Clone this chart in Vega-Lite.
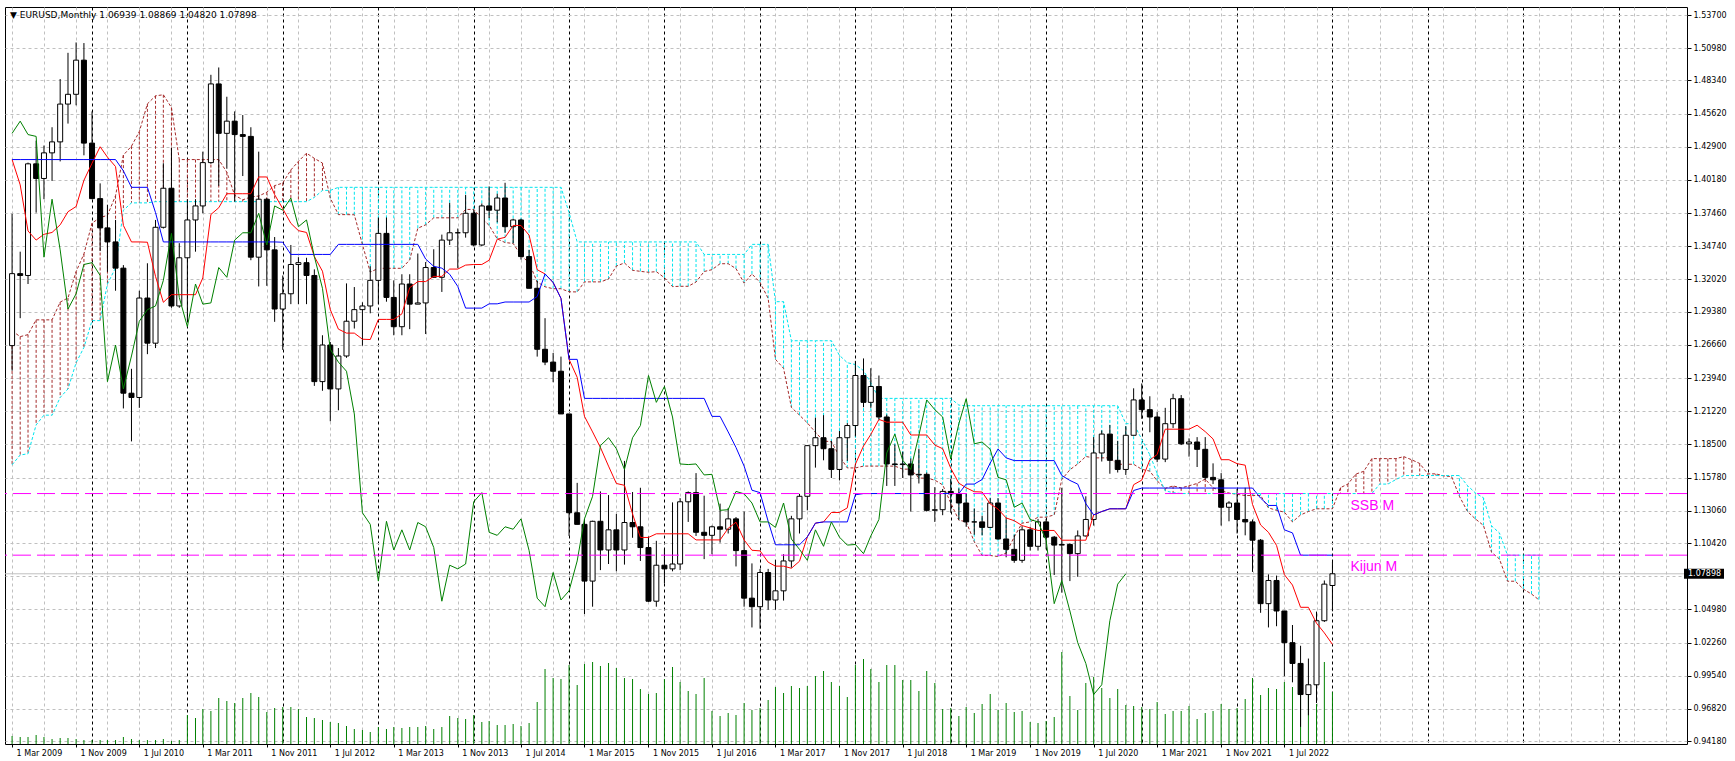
{
  "$schema": "https://vega.github.io/schema/vega-lite/v6.json",
  "width": 1682,
  "height": 737,
  "padding": {"left": 5, "top": 7, "right": 48, "bottom": 17},
  "autosize": {"type": "none"},
  "background": "white",
  "title": {
    "text": "▼ EURUSD,Monthly  1.06939 1.08869 1.04820 1.07898",
    "anchor": "start",
    "frame": "group",
    "offset": -13,
    "dx": 5,
    "font": "DejaVu Sans",
    "fontSize": 9,
    "fontWeight": "normal",
    "color": "#000000"
  },
  "config": {
    "view": {"stroke": "#000000", "strokeWidth": 1},
    "axis": {"labelColor": "#000000", "tickColor": "#000000", "labelOverlap": false, "labelFlush": false, "labelBound": false, "labelFont": "DejaVu Sans", "labelFontSize": 8},
    "axisY": {"labelOverlap": false},
    "axisRight": {"labelPadding": 2, "tickSize": 4, "labelOverlap": false},
    "axisBottom": {"labelAlign": "left", "labelOffset": 4, "labelPadding": 2, "tickSize": 3}
  },
  "datasets": {
    "bars": [
      {"d":"2009-03-01","o":1.266,"h":1.374,"l":1.2455,"c":1.325,"v":8,"t":1.4185,"k":1.4185,"ch":1.44},
      {"d":"2009-04-01","o":1.325,"h":1.343,"l":1.2885,"c":1.3235,"v":7,"t":1.39775,"k":1.4185,"ch":1.45},
      {"d":"2009-05-01","o":1.3235,"h":1.416,"l":1.3165,"c":1.415,"v":7,"t":1.36,"k":1.4185,"ch":1.439},
      {"d":"2009-06-01","o":1.415,"h":1.434,"l":1.375,"c":1.403,"v":9,"t":1.3525,"k":1.4185,"ch":1.4375},
      {"d":"2009-07-01","o":1.403,"h":1.43,"l":1.386,"c":1.424,"v":7,"t":1.35725,"k":1.4185,"ch":1.3385},
      {"d":"2009-08-01","o":1.424,"h":1.445,"l":1.401,"c":1.433,"v":5,"t":1.35875,"k":1.4185,"ch":1.386},
      {"d":"2009-09-01","o":1.433,"h":1.4845,"l":1.417,"c":1.464,"v":6,"t":1.365,"k":1.4185,"ch":1.3445},
      {"d":"2009-10-01","o":1.464,"h":1.506,"l":1.448,"c":1.472,"v":6,"t":1.37575,"k":1.4185,"ch":1.296},
      {"d":"2009-11-01","o":1.472,"h":1.5145,"l":1.463,"c":1.5,"v":5,"t":1.38,"k":1.4185,"ch":1.3085},
      {"d":"2009-12-01","o":1.5,"h":1.514,"l":1.422,"c":1.432,"v":4,"t":1.4015,"k":1.4185,"ch":1.3325},
      {"d":"2010-01-01","o":1.432,"h":1.458,"l":1.386,"c":1.3865,"v":4,"t":1.4155,"k":1.4185,"ch":1.334},
      {"d":"2010-02-01","o":1.3865,"h":1.399,"l":1.3435,"c":1.3625,"v":4,"t":1.429,"k":1.4185,"ch":1.3235},
      {"d":"2010-03-01","o":1.3625,"h":1.3815,"l":1.3265,"c":1.351,"v":4,"t":1.4205,"k":1.4185,"ch":1.2365},
      {"d":"2010-04-01","o":1.351,"h":1.369,"l":1.311,"c":1.3295,"v":4,"t":1.41275,"k":1.4185,"ch":1.2665},
      {"d":"2010-05-01","o":1.3295,"h":1.332,"l":1.2145,"c":1.227,"v":7,"t":1.3645,"k":1.40925,"ch":1.2305},
      {"d":"2010-06-01","o":1.227,"h":1.247,"l":1.1875,"c":1.2235,"v":5,"t":1.351,"k":1.39575,"ch":1.2575},
      {"d":"2010-07-01","o":1.2235,"h":1.311,"l":1.215,"c":1.305,"v":4,"t":1.351,"k":1.39575,"ch":1.286},
      {"d":"2010-08-01","o":1.305,"h":1.3335,"l":1.259,"c":1.268,"v":4,"t":1.35075,"k":1.39575,"ch":1.2955},
      {"d":"2010-09-01","o":1.268,"h":1.369,"l":1.264,"c":1.363,"v":4,"t":1.32275,"k":1.375,"ch":1.2985},
      {"d":"2010-10-01","o":1.363,"h":1.4155,"l":1.362,"c":1.395,"v":5,"t":1.3015,"k":1.351,"ch":1.3195},
      {"d":"2010-11-01","o":1.395,"h":1.428,"l":1.297,"c":1.2985,"v":3,"t":1.30775,"k":1.351,"ch":1.358},
      {"d":"2010-12-01","o":1.2985,"h":1.35,"l":1.297,"c":1.338,"v":4,"t":1.30775,"k":1.351,"ch":1.3055},
      {"d":"2011-01-01","o":1.338,"h":1.386,"l":1.287,"c":1.369,"v":29,"t":1.30775,"k":1.351,"ch":1.2815},
      {"d":"2011-02-01","o":1.369,"h":1.386,"l":1.343,"c":1.3805,"v":26,"t":1.30775,"k":1.351,"ch":1.3165},
      {"d":"2011-03-01","o":1.3805,"h":1.425,"l":1.3745,"c":1.416,"v":35,"t":1.3215,"k":1.351,"ch":1.3},
      {"d":"2011-04-01","o":1.416,"h":1.488,"l":1.415,"c":1.4805,"v":33,"t":1.3735,"k":1.351,"ch":1.301},
      {"d":"2011-05-01","o":1.4805,"h":1.494,"l":1.397,"c":1.44,"v":46,"t":1.379,"k":1.351,"ch":1.33},
      {"d":"2011-06-01","o":1.44,"h":1.47,"l":1.411,"c":1.45,"v":43,"t":1.3905,"k":1.351,"ch":1.322},
      {"d":"2011-07-01","o":1.45,"h":1.458,"l":1.384,"c":1.439,"v":41,"t":1.3905,"k":1.351,"ch":1.3525},
      {"d":"2011-08-01","o":1.439,"h":1.455,"l":1.405,"c":1.4375,"v":46,"t":1.3905,"k":1.351,"ch":1.3585},
      {"d":"2011-09-01","o":1.4375,"h":1.445,"l":1.336,"c":1.3385,"v":51,"t":1.3905,"k":1.351,"ch":1.3585},
      {"d":"2011-10-01","o":1.3385,"h":1.425,"l":1.3145,"c":1.386,"v":47,"t":1.40425,"k":1.351,"ch":1.3745},
      {"d":"2011-11-01","o":1.386,"h":1.387,"l":1.315,"c":1.3445,"v":32,"t":1.40425,"k":1.351,"ch":1.3485},
      {"d":"2011-12-01","o":1.3445,"h":1.355,"l":1.2855,"c":1.296,"v":36,"t":1.38975,"k":1.351,"ch":1.3805},
      {"d":"2012-01-01","o":1.296,"h":1.3235,"l":1.2625,"c":1.3085,"v":37,"t":1.37825,"k":1.35075,"ch":1.377},
      {"d":"2012-02-01","o":1.3085,"h":1.3485,"l":1.3,"c":1.3325,"v":37,"t":1.36625,"k":1.34075,"ch":1.387},
      {"d":"2012-03-01","o":1.3325,"h":1.3385,"l":1.3,"c":1.334,"v":35,"t":1.36025,"k":1.34075,"ch":1.3635},
      {"d":"2012-04-01","o":1.334,"h":1.338,"l":1.3,"c":1.3235,"v":27,"t":1.35875,"k":1.34075,"ch":1.369},
      {"d":"2012-05-01","o":1.3235,"h":1.3285,"l":1.233,"c":1.2365,"v":26,"t":1.339,"k":1.34075,"ch":1.339},
      {"d":"2012-06-01","o":1.2365,"h":1.2745,"l":1.229,"c":1.2665,"v":24,"t":1.327,"k":1.34075,"ch":1.313},
      {"d":"2012-07-01","o":1.2665,"h":1.269,"l":1.204,"c":1.2305,"v":22,"t":1.2955,"k":1.34075,"ch":1.263},
      {"d":"2012-08-01","o":1.2305,"h":1.264,"l":1.213,"c":1.2575,"v":21,"t":1.2795,"k":1.349,"ch":1.2525},
      {"d":"2012-09-01","o":1.2575,"h":1.317,"l":1.256,"c":1.286,"v":18,"t":1.27625,"k":1.349,"ch":1.245},
      {"d":"2012-10-01","o":1.286,"h":1.314,"l":1.28,"c":1.2955,"v":15,"t":1.27625,"k":1.349,"ch":1.21},
      {"d":"2012-11-01","o":1.2955,"h":1.3015,"l":1.266,"c":1.2985,"v":14,"t":1.27125,"k":1.349,"ch":1.129},
      {"d":"2012-12-01","o":1.2985,"h":1.331,"l":1.2925,"c":1.3195,"v":12,"t":1.271,"k":1.349,"ch":1.1195},
      {"d":"2013-01-01","o":1.3195,"h":1.371,"l":1.3,"c":1.358,"v":17,"t":1.2875,"k":1.349,"ch":1.073},
      {"d":"2013-02-01","o":1.358,"h":1.371,"l":1.302,"c":1.3055,"v":15,"t":1.2875,"k":1.349,"ch":1.122},
      {"d":"2013-03-01","o":1.3055,"h":1.3195,"l":1.2745,"c":1.2815,"v":17,"t":1.2875,"k":1.349,"ch":1.0985},
      {"d":"2013-04-01","o":1.2815,"h":1.3245,"l":1.2745,"c":1.3165,"v":16,"t":1.292,"k":1.349,"ch":1.115},
      {"d":"2013-05-01","o":1.3165,"h":1.3245,"l":1.2795,"c":1.3,"v":17,"t":1.3135,"k":1.349,"ch":1.0985},
      {"d":"2013-06-01","o":1.3,"h":1.3415,"l":1.3,"c":1.301,"v":17,"t":1.3185,"k":1.349,"ch":1.121},
      {"d":"2013-07-01","o":1.301,"h":1.3345,"l":1.2755,"c":1.33,"v":18,"t":1.3185,"k":1.337,"ch":1.1175},
      {"d":"2013-08-01","o":1.33,"h":1.345,"l":1.322,"c":1.322,"v":15,"t":1.32275,"k":1.331,"ch":1.1005},
      {"d":"2013-09-01","o":1.322,"h":1.357,"l":1.31,"c":1.3525,"v":17,"t":1.32275,"k":1.3295,"ch":1.0565},
      {"d":"2013-10-01","o":1.3525,"h":1.383,"l":1.3485,"c":1.3585,"v":28,"t":1.32875,"k":1.3245,"ch":1.086},
      {"d":"2013-11-01","o":1.3585,"h":1.362,"l":1.3295,"c":1.3585,"v":26,"t":1.32875,"k":1.3145,"ch":1.083},
      {"d":"2013-12-01","o":1.3585,"h":1.3895,"l":1.3545,"c":1.3745,"v":25,"t":1.332,"k":1.29675,"ch":1.087},
      {"d":"2014-01-01","o":1.3745,"h":1.3775,"l":1.3475,"c":1.3485,"v":29,"t":1.3325,"k":1.29675,"ch":1.138},
      {"d":"2014-02-01","o":1.3485,"h":1.3825,"l":1.3475,"c":1.3805,"v":22,"t":1.3325,"k":1.29675,"ch":1.1455},
      {"d":"2014-03-01","o":1.3805,"h":1.3965,"l":1.3705,"c":1.377,"v":23,"t":1.336,"k":1.30025,"ch":1.113},
      {"d":"2014-04-01","o":1.377,"h":1.3905,"l":1.367,"c":1.387,"v":19,"t":1.35325,"k":1.30025,"ch":1.1105},
      {"d":"2014-05-01","o":1.387,"h":1.3995,"l":1.3585,"c":1.3635,"v":19,"t":1.35475,"k":1.30175,"ch":1.1175},
      {"d":"2014-06-01","o":1.3635,"h":1.37,"l":1.35,"c":1.369,"v":20,"t":1.3645,"k":1.30175,"ch":1.1155},
      {"d":"2014-07-01","o":1.369,"h":1.37,"l":1.3365,"c":1.339,"v":18,"t":1.3645,"k":1.30175,"ch":1.124},
      {"d":"2014-08-01","o":1.339,"h":1.3445,"l":1.313,"c":1.313,"v":21,"t":1.3565,"k":1.30175,"ch":1.098},
      {"d":"2014-09-01","o":1.313,"h":1.319,"l":1.257,"c":1.263,"v":42,"t":1.32825,"k":1.30625,"ch":1.059},
      {"d":"2014-10-01","o":1.263,"h":1.2885,"l":1.25,"c":1.2525,"v":75,"t":1.32475,"k":1.32475,"ch":1.052},
      {"d":"2014-11-01","o":1.2525,"h":1.26,"l":1.236,"c":1.245,"v":66,"t":1.31775,"k":1.31775,"ch":1.08},
      {"d":"2014-12-01","o":1.245,"h":1.257,"l":1.21,"c":1.21,"v":65,"t":1.30475,"k":1.30475,"ch":1.0575},
      {"d":"2015-01-01","o":1.21,"h":1.21,"l":1.11,"c":1.129,"v":79,"t":1.25475,"k":1.25475,"ch":1.065},
      {"d":"2015-02-01","o":1.129,"h":1.1535,"l":1.1195,"c":1.1195,"v":59,"t":1.24,"k":1.25475,"ch":1.0895},
      {"d":"2015-03-01","o":1.1195,"h":1.124,"l":1.046,"c":1.073,"v":80,"t":1.208,"k":1.22275,"ch":1.124},
      {"d":"2015-04-01","o":1.073,"h":1.1225,"l":1.052,"c":1.122,"v":82,"t":1.19525,"k":1.22275,"ch":1.1425},
      {"d":"2015-05-01","o":1.122,"h":1.1465,"l":1.082,"c":1.0985,"v":78,"t":1.1825,"k":1.22275,"ch":1.184},
      {"d":"2015-06-01","o":1.0985,"h":1.1435,"l":1.087,"c":1.115,"v":81,"t":1.16725,"k":1.22275,"ch":1.1905},
      {"d":"2015-07-01","o":1.115,"h":1.128,"l":1.081,"c":1.0985,"v":76,"t":1.153,"k":1.22275,"ch":1.1815},
      {"d":"2015-08-01","o":1.0985,"h":1.1715,"l":1.0865,"c":1.121,"v":66,"t":1.1515,"k":1.22275,"ch":1.1645},
      {"d":"2015-09-01","o":1.121,"h":1.146,"l":1.1085,"c":1.1175,"v":65,"t":1.128,"k":1.22275,"ch":1.1905},
      {"d":"2015-10-01","o":1.1175,"h":1.1495,"l":1.0895,"c":1.1005,"v":55,"t":1.10875,"k":1.22275,"ch":1.2005},
      {"d":"2015-11-01","o":1.1005,"h":1.1095,"l":1.056,"c":1.0565,"v":50,"t":1.10875,"k":1.22275,"ch":1.2415},
      {"d":"2015-12-01","o":1.0565,"h":1.106,"l":1.052,"c":1.086,"v":51,"t":1.11175,"k":1.22275,"ch":1.2195},
      {"d":"2016-01-01","o":1.086,"h":1.099,"l":1.071,"c":1.083,"v":65,"t":1.11175,"k":1.22275,"ch":1.2325},
      {"d":"2016-02-01","o":1.083,"h":1.1375,"l":1.081,"c":1.087,"v":77,"t":1.11175,"k":1.22275,"ch":1.2075},
      {"d":"2016-03-01","o":1.087,"h":1.141,"l":1.082,"c":1.138,"v":62,"t":1.11175,"k":1.22275,"ch":1.169},
      {"d":"2016-04-01","o":1.138,"h":1.1465,"l":1.1215,"c":1.1455,"v":53,"t":1.11175,"k":1.22275,"ch":1.1685},
      {"d":"2016-05-01","o":1.1455,"h":1.1615,"l":1.11,"c":1.113,"v":50,"t":1.10675,"k":1.22275,"ch":1.169},
      {"d":"2016-06-01","o":1.113,"h":1.143,"l":1.091,"c":1.1105,"v":66,"t":1.10675,"k":1.22275,"ch":1.16},
      {"d":"2016-07-01","o":1.1105,"h":1.1185,"l":1.095,"c":1.1175,"v":33,"t":1.10675,"k":1.208,"ch":1.1605},
      {"d":"2016-08-01","o":1.1175,"h":1.1365,"l":1.1045,"c":1.1155,"v":28,"t":1.10675,"k":1.208,"ch":1.131},
      {"d":"2016-09-01","o":1.1155,"h":1.133,"l":1.112,"c":1.124,"v":31,"t":1.11625,"k":1.19525,"ch":1.1315},
      {"d":"2016-10-01","o":1.124,"h":1.1255,"l":1.085,"c":1.098,"v":29,"t":1.12125,"k":1.1825,"ch":1.1465},
      {"d":"2016-11-01","o":1.098,"h":1.13,"l":1.052,"c":1.059,"v":41,"t":1.10675,"k":1.16725,"ch":1.1445},
      {"d":"2016-12-01","o":1.059,"h":1.0875,"l":1.035,"c":1.052,"v":34,"t":1.09825,"k":1.1475,"ch":1.137},
      {"d":"2017-01-01","o":1.052,"h":1.083,"l":1.034,"c":1.08,"v":36,"t":1.09775,"k":1.1455,"ch":1.1215},
      {"d":"2017-02-01","o":1.08,"h":1.083,"l":1.0495,"c":1.0575,"v":44,"t":1.0885,"k":1.122,"ch":1.1215},
      {"d":"2017-03-01","o":1.0575,"h":1.0905,"l":1.0495,"c":1.065,"v":57,"t":1.08525,"k":1.10275,"ch":1.117},
      {"d":"2017-04-01","o":1.065,"h":1.095,"l":1.057,"c":1.0895,"v":51,"t":1.08525,"k":1.10275,"ch":1.137},
      {"d":"2017-05-01","o":1.0895,"h":1.1265,"l":1.084,"c":1.124,"v":58,"t":1.0835,"k":1.10275,"ch":1.1075},
      {"d":"2017-06-01","o":1.124,"h":1.1445,"l":1.112,"c":1.1425,"v":56,"t":1.08925,"k":1.10275,"ch":1.099},
      {"d":"2017-07-01","o":1.1425,"h":1.1845,"l":1.131,"c":1.184,"v":58,"t":1.10925,"k":1.10925,"ch":1.09},
      {"d":"2017-08-01","o":1.184,"h":1.207,"l":1.166,"c":1.1905,"v":68,"t":1.1205,"k":1.1205,"ch":1.115},
      {"d":"2017-09-01","o":1.1905,"h":1.209,"l":1.172,"c":1.1815,"v":73,"t":1.1215,"k":1.1215,"ch":1.1015},
      {"d":"2017-10-01","o":1.1815,"h":1.188,"l":1.1575,"c":1.1645,"v":62,"t":1.12925,"k":1.1215,"ch":1.1215},
      {"d":"2017-11-01","o":1.1645,"h":1.196,"l":1.1555,"c":1.1905,"v":58,"t":1.12925,"k":1.1215,"ch":1.109},
      {"d":"2017-12-01","o":1.1905,"h":1.2025,"l":1.1715,"c":1.2005,"v":47,"t":1.133,"k":1.1215,"ch":1.1025},
      {"d":"2018-01-01","o":1.2005,"h":1.2535,"l":1.1915,"c":1.2415,"v":79,"t":1.16875,"k":1.14375,"ch":1.103},
      {"d":"2018-02-01","o":1.2415,"h":1.2555,"l":1.2155,"c":1.2195,"v":85,"t":1.18375,"k":1.14475,"ch":1.0955},
      {"d":"2018-03-01","o":1.2195,"h":1.2475,"l":1.215,"c":1.2325,"v":75,"t":1.19325,"k":1.14475,"ch":1.11},
      {"d":"2018-04-01","o":1.2325,"h":1.2415,"l":1.2055,"c":1.2075,"v":62,"t":1.2055,"k":1.14475,"ch":1.1235},
      {"d":"2018-05-01","o":1.2075,"h":1.2095,"l":1.151,"c":1.169,"v":79,"t":1.20325,"k":1.14475,"ch":1.178},
      {"d":"2018-06-01","o":1.169,"h":1.185,"l":1.151,"c":1.1685,"v":79,"t":1.20325,"k":1.14475,"ch":1.1935},
      {"d":"2018-07-01","o":1.1685,"h":1.179,"l":1.1575,"c":1.169,"v":64,"t":1.20325,"k":1.14475,"ch":1.172},
      {"d":"2018-08-01","o":1.169,"h":1.1735,"l":1.13,"c":1.16,"v":64,"t":1.19275,"k":1.14475,"ch":1.1645},
      {"d":"2018-09-01","o":1.16,"h":1.1815,"l":1.153,"c":1.1605,"v":53,"t":1.19275,"k":1.14475,"ch":1.1925},
      {"d":"2018-10-01","o":1.1605,"h":1.162,"l":1.13,"c":1.131,"v":73,"t":1.19275,"k":1.14475,"ch":1.2215},
      {"d":"2018-11-01","o":1.131,"h":1.15,"l":1.1215,"c":1.1315,"v":61,"t":1.1845,"k":1.14475,"ch":1.2135},
      {"d":"2018-12-01","o":1.1315,"h":1.1485,"l":1.127,"c":1.1465,"v":35,"t":1.1815,"k":1.14475,"ch":1.2075},
      {"d":"2019-01-01","o":1.1465,"h":1.157,"l":1.129,"c":1.1445,"v":36,"t":1.1655,"k":1.14475,"ch":1.173},
      {"d":"2019-02-01","o":1.1445,"h":1.149,"l":1.1235,"c":1.137,"v":28,"t":1.15325,"k":1.14475,"ch":1.202},
      {"d":"2019-03-01","o":1.137,"h":1.145,"l":1.1175,"c":1.1215,"v":37,"t":1.1495,"k":1.1525,"ch":1.2225},
      {"d":"2019-04-01","o":1.1215,"h":1.1325,"l":1.111,"c":1.1215,"v":31,"t":1.14625,"k":1.1525,"ch":1.1855},
      {"d":"2019-05-01","o":1.1215,"h":1.1265,"l":1.1105,"c":1.117,"v":40,"t":1.146,"k":1.15625,"ch":1.187},
      {"d":"2019-06-01","o":1.117,"h":1.141,"l":1.1165,"c":1.137,"v":50,"t":1.13625,"k":1.16975,"ch":1.181},
      {"d":"2019-07-01","o":1.137,"h":1.141,"l":1.107,"c":1.1075,"v":34,"t":1.132,"k":1.18125,"ch":1.158},
      {"d":"2019-08-01","o":1.1075,"h":1.125,"l":1.0925,"c":1.099,"v":41,"t":1.12475,"k":1.174,"ch":1.156},
      {"d":"2019-09-01","o":1.099,"h":1.111,"l":1.088,"c":1.09,"v":32,"t":1.1225,"k":1.17175,"ch":1.1335},
      {"d":"2019-10-01","o":1.09,"h":1.118,"l":1.088,"c":1.115,"v":33,"t":1.1185,"k":1.17175,"ch":1.137},
      {"d":"2019-11-01","o":1.115,"h":1.1175,"l":1.098,"c":1.1015,"v":22,"t":1.1165,"k":1.17175,"ch":1.1235},
      {"d":"2019-12-01","o":1.1015,"h":1.124,"l":1.098,"c":1.1215,"v":21,"t":1.1145,"k":1.17175,"ch":1.1215},
      {"d":"2020-01-01","o":1.1215,"h":1.124,"l":1.099,"c":1.109,"v":23,"t":1.1145,"k":1.17175,"ch":1.1065},
      {"d":"2020-02-01","o":1.109,"h":1.11,"l":1.078,"c":1.1025,"v":27,"t":1.1145,"k":1.17175,"ch":1.0545},
      {"d":"2020-03-01","o":1.1025,"h":1.1495,"l":1.0635,"c":1.103,"v":92,"t":1.1065,"k":1.1595,"ch":1.0735},
      {"d":"2020-04-01","o":1.103,"h":1.104,"l":1.073,"c":1.0955,"v":48,"t":1.1065,"k":1.1555,"ch":1.0485},
      {"d":"2020-05-01","o":1.0955,"h":1.1145,"l":1.0765,"c":1.11,"v":34,"t":1.1065,"k":1.1525,"ch":1.0225},
      {"d":"2020-06-01","o":1.11,"h":1.1425,"l":1.1095,"c":1.1235,"v":61,"t":1.1065,"k":1.1365,"ch":1.0055},
      {"d":"2020-07-01","o":1.1235,"h":1.191,"l":1.1185,"c":1.178,"v":67,"t":1.12725,"k":1.12725,"ch":0.98},
      {"d":"2020-08-01","o":1.178,"h":1.1965,"l":1.171,"c":1.1935,"v":56,"t":1.13,"k":1.13,"ch":0.988},
      {"d":"2020-09-01","o":1.1935,"h":1.201,"l":1.161,"c":1.172,"v":46,"t":1.13225,"k":1.13225,"ch":1.0405},
      {"d":"2020-10-01","o":1.172,"h":1.188,"l":1.162,"c":1.1645,"v":55,"t":1.13225,"k":1.13225,"ch":1.0705},
      {"d":"2020-11-01","o":1.1645,"h":1.2,"l":1.16,"c":1.1925,"v":39,"t":1.13225,"k":1.13225,"ch":1.07898},
      {"d":"2020-12-01","o":1.1925,"h":1.231,"l":1.1925,"c":1.2215,"v":38,"t":1.152,"k":1.14725},
      {"d":"2021-01-01","o":1.2215,"h":1.235,"l":1.206,"c":1.2135,"v":37,"t":1.15575,"k":1.14925},
      {"d":"2021-02-01","o":1.2135,"h":1.2245,"l":1.195,"c":1.2075,"v":35,"t":1.17225,"k":1.14925},
      {"d":"2021-03-01","o":1.2075,"h":1.2115,"l":1.1705,"c":1.173,"v":42,"t":1.17675,"k":1.14925},
      {"d":"2021-04-01","o":1.173,"h":1.215,"l":1.1705,"c":1.202,"v":30,"t":1.1975,"k":1.14925},
      {"d":"2021-05-01","o":1.202,"h":1.2265,"l":1.1985,"c":1.2225,"v":33,"t":1.1975,"k":1.14925},
      {"d":"2021-06-01","o":1.2225,"h":1.2255,"l":1.1845,"c":1.1855,"v":33,"t":1.1975,"k":1.14925},
      {"d":"2021-07-01","o":1.1855,"h":1.19,"l":1.175,"c":1.187,"v":38,"t":1.1975,"k":1.14925},
      {"d":"2021-08-01","o":1.187,"h":1.191,"l":1.1665,"c":1.181,"v":25,"t":1.20075,"k":1.14925},
      {"d":"2021-09-01","o":1.181,"h":1.191,"l":1.156,"c":1.158,"v":31,"t":1.1955,"k":1.14925},
      {"d":"2021-10-01","o":1.158,"h":1.1695,"l":1.1525,"c":1.156,"v":33,"t":1.1895,"k":1.14925},
      {"d":"2021-11-01","o":1.156,"h":1.1615,"l":1.1185,"c":1.1335,"v":40,"t":1.1725,"k":1.14925},
      {"d":"2021-12-01","o":1.1335,"h":1.1385,"l":1.122,"c":1.137,"v":35,"t":1.1725,"k":1.14925},
      {"d":"2022-01-01","o":1.137,"h":1.1485,"l":1.112,"c":1.1235,"v":36,"t":1.16925,"k":1.14925},
      {"d":"2022-02-01","o":1.1235,"h":1.1495,"l":1.1105,"c":1.1215,"v":45,"t":1.168,"k":1.14925},
      {"d":"2022-03-01","o":1.1215,"h":1.1235,"l":1.0805,"c":1.1065,"v":66,"t":1.13575,"k":1.14925},
      {"d":"2022-04-01","o":1.1065,"h":1.1075,"l":1.047,"c":1.0545,"v":49,"t":1.119,"k":1.141},
      {"d":"2022-05-01","o":1.0545,"h":1.0785,"l":1.035,"c":1.0735,"v":56,"t":1.113,"k":1.135},
      {"d":"2022-06-01","o":1.0735,"h":1.0775,"l":1.036,"c":1.0485,"v":55,"t":1.10225,"k":1.135},
      {"d":"2022-07-01","o":1.0485,"h":1.0485,"l":0.995,"c":1.0225,"v":62,"t":1.07825,"k":1.115},
      {"d":"2022-08-01","o":1.0225,"h":1.037,"l":0.99,"c":1.0055,"v":57,"t":1.06975,"k":1.1125},
      {"d":"2022-09-01","o":1.0055,"h":1.02,"l":0.9535,"c":0.98,"v":70,"t":1.0515,"k":1.09425},
      {"d":"2022-10-01","o":0.98,"h":1.0095,"l":0.963,"c":0.988,"v":60,"t":1.0515,"k":1.09425},
      {"d":"2022-11-01","o":0.988,"h":1.048,"l":0.973,"c":1.0405,"v":40,"t":1.0385,"k":1.09425},
      {"d":"2022-12-01","o":1.0405,"h":1.0735,"l":1.0395,"c":1.0705,"v":82,"t":1.0305,"k":1.09425},
      {"d":"2023-01-01","o":1.06939,"h":1.08869,"l":1.0482,"c":1.07898,"v":52,"t":1.0211,"k":1.09425}
    ],
    "cloud": [
      {"d":"2009-03-01","a":1.27805,"b":1.16835},
      {"d":"2009-04-01","a":1.27338,"b":1.17635},
      {"d":"2009-05-01","a":1.275,"b":1.17735},
      {"d":"2009-06-01","a":1.28713,"b":1.201},
      {"d":"2009-07-01","a":1.28713,"b":1.209},
      {"d":"2009-08-01","a":1.28713,"b":1.209},
      {"d":"2009-09-01","a":1.30163,"b":1.2235},
      {"d":"2009-10-01","a":1.30513,"b":1.2305},
      {"d":"2009-11-01","a":1.32663,"b":1.252},
      {"d":"2009-12-01","a":1.34113,"b":1.2645},
      {"d":"2010-01-01","a":1.36638,"b":1.2865},
      {"d":"2010-02-01","a":1.371,"b":1.2865},
      {"d":"2010-03-01","a":1.37275,"b":1.3165},
      {"d":"2010-04-01","a":1.38888,"b":1.32975},
      {"d":"2010-05-01","a":1.42213,"b":1.377},
      {"d":"2010-06-01","a":1.4295,"b":1.383},
      {"d":"2010-07-01","a":1.44138,"b":1.383},
      {"d":"2010-08-01","a":1.46413,"b":1.383},
      {"d":"2010-09-01","a":1.47075,"b":1.384},
      {"d":"2010-10-01","a":1.47163,"b":1.384},
      {"d":"2010-11-01","a":1.46113,"b":1.384},
      {"d":"2010-12-01","a":1.4185,"b":1.384},
      {"d":"2011-01-01","a":1.4185,"b":1.384},
      {"d":"2011-02-01","a":1.4185,"b":1.384},
      {"d":"2011-03-01","a":1.4185,"b":1.384},
      {"d":"2011-04-01","a":1.4185,"b":1.384},
      {"d":"2011-05-01","a":1.4185,"b":1.384},
      {"d":"2011-06-01","a":1.40813,"b":1.384},
      {"d":"2011-07-01","a":1.38925,"b":1.384},
      {"d":"2011-08-01","a":1.3855,"b":1.384},
      {"d":"2011-09-01","a":1.38788,"b":1.384},
      {"d":"2011-10-01","a":1.38863,"b":1.384},
      {"d":"2011-11-01","a":1.39175,"b":1.384},
      {"d":"2011-12-01","a":1.39713,"b":1.384},
      {"d":"2012-01-01","a":1.39925,"b":1.384},
      {"d":"2012-02-01","a":1.41,"b":1.384},
      {"d":"2012-03-01","a":1.417,"b":1.384},
      {"d":"2012-04-01","a":1.42375,"b":1.384},
      {"d":"2012-05-01","a":1.4195,"b":1.3875},
      {"d":"2012-06-01","a":1.41563,"b":1.39325},
      {"d":"2012-07-01","a":1.38688,"b":1.39325},
      {"d":"2012-08-01","a":1.37338,"b":1.39575},
      {"d":"2012-09-01","a":1.37338,"b":1.39575},
      {"d":"2012-10-01","a":1.37325,"b":1.39575},
      {"d":"2012-11-01","a":1.34888,"b":1.39575},
      {"d":"2012-12-01","a":1.32625,"b":1.39575},
      {"d":"2013-01-01","a":1.32938,"b":1.39575},
      {"d":"2013-02-01","a":1.32938,"b":1.39575},
      {"d":"2013-03-01","a":1.32938,"b":1.39575},
      {"d":"2013-04-01","a":1.32938,"b":1.39575},
      {"d":"2013-05-01","a":1.33625,"b":1.39575},
      {"d":"2013-06-01","a":1.36225,"b":1.39575},
      {"d":"2013-07-01","a":1.365,"b":1.39575},
      {"d":"2013-08-01","a":1.37075,"b":1.39575},
      {"d":"2013-09-01","a":1.37075,"b":1.39575},
      {"d":"2013-10-01","a":1.37075,"b":1.39575},
      {"d":"2013-11-01","a":1.37075,"b":1.39575},
      {"d":"2013-12-01","a":1.37763,"b":1.39575},
      {"d":"2014-01-01","a":1.37763,"b":1.39575},
      {"d":"2014-02-01","a":1.37038,"b":1.39575},
      {"d":"2014-03-01","a":1.3645,"b":1.39575},
      {"d":"2014-04-01","a":1.3535,"b":1.39575},
      {"d":"2014-05-01","a":1.3505,"b":1.39575},
      {"d":"2014-06-01","a":1.34975,"b":1.39575},
      {"d":"2014-07-01","a":1.33988,"b":1.39575},
      {"d":"2014-08-01","a":1.33388,"b":1.39575},
      {"d":"2014-09-01","a":1.31813,"b":1.39575},
      {"d":"2014-10-01","a":1.31425,"b":1.39575},
      {"d":"2014-11-01","a":1.31263,"b":1.39575},
      {"d":"2014-12-01","a":1.31263,"b":1.39575},
      {"d":"2015-01-01","a":1.31013,"b":1.375},
      {"d":"2015-02-01","a":1.31,"b":1.351},
      {"d":"2015-03-01","a":1.31825,"b":1.351},
      {"d":"2015-04-01","a":1.31825,"b":1.351},
      {"d":"2015-05-01","a":1.31825,"b":1.351},
      {"d":"2015-06-01","a":1.3205,"b":1.351},
      {"d":"2015-07-01","a":1.33125,"b":1.351},
      {"d":"2015-08-01","a":1.33375,"b":1.351},
      {"d":"2015-09-01","a":1.32775,"b":1.351},
      {"d":"2015-10-01","a":1.32688,"b":1.351},
      {"d":"2015-11-01","a":1.32613,"b":1.351},
      {"d":"2015-12-01","a":1.32663,"b":1.351},
      {"d":"2016-01-01","a":1.32163,"b":1.351},
      {"d":"2016-02-01","a":1.31438,"b":1.351},
      {"d":"2016-03-01","a":1.31463,"b":1.351},
      {"d":"2016-04-01","a":1.31463,"b":1.351},
      {"d":"2016-05-01","a":1.31813,"b":1.351},
      {"d":"2016-06-01","a":1.32675,"b":1.34075},
      {"d":"2016-07-01","a":1.32825,"b":1.34075},
      {"d":"2016-08-01","a":1.33313,"b":1.34075},
      {"d":"2016-09-01","a":1.33313,"b":1.34075},
      {"d":"2016-10-01","a":1.32913,"b":1.34075},
      {"d":"2016-11-01","a":1.31725,"b":1.34075},
      {"d":"2016-12-01","a":1.32475,"b":1.349},
      {"d":"2017-01-01","a":1.31775,"b":1.349},
      {"d":"2017-02-01","a":1.30475,"b":1.349},
      {"d":"2017-03-01","a":1.25475,"b":1.302},
      {"d":"2017-04-01","a":1.24738,"b":1.302},
      {"d":"2017-05-01","a":1.21538,"b":1.27},
      {"d":"2017-06-01","a":1.209,"b":1.27},
      {"d":"2017-07-01","a":1.20263,"b":1.27},
      {"d":"2017-08-01","a":1.195,"b":1.27},
      {"d":"2017-09-01","a":1.18788,"b":1.27},
      {"d":"2017-10-01","a":1.18713,"b":1.27},
      {"d":"2017-11-01","a":1.17538,"b":1.258},
      {"d":"2017-12-01","a":1.16575,"b":1.252},
      {"d":"2018-01-01","a":1.16575,"b":1.2505},
      {"d":"2018-02-01","a":1.16725,"b":1.2455},
      {"d":"2018-03-01","a":1.16725,"b":1.2355},
      {"d":"2018-04-01","a":1.16725,"b":1.22275},
      {"d":"2018-05-01","a":1.16725,"b":1.22275},
      {"d":"2018-06-01","a":1.16725,"b":1.22275},
      {"d":"2018-07-01","a":1.16475,"b":1.22275},
      {"d":"2018-08-01","a":1.16475,"b":1.22275},
      {"d":"2018-09-01","a":1.15738,"b":1.22275},
      {"d":"2018-10-01","a":1.15738,"b":1.22275},
      {"d":"2018-11-01","a":1.15575,"b":1.22275},
      {"d":"2018-12-01","a":1.15188,"b":1.22275},
      {"d":"2019-01-01","a":1.137,"b":1.22275},
      {"d":"2019-02-01","a":1.12288,"b":1.21725},
      {"d":"2019-03-01","a":1.12163,"b":1.21675},
      {"d":"2019-04-01","a":1.10525,"b":1.21675},
      {"d":"2019-05-01","a":1.094,"b":1.21675},
      {"d":"2019-06-01","a":1.094,"b":1.21675},
      {"d":"2019-07-01","a":1.09313,"b":1.21675},
      {"d":"2019-08-01","a":1.096,"b":1.21675},
      {"d":"2019-09-01","a":1.10925,"b":1.21675},
      {"d":"2019-10-01","a":1.1205,"b":1.21675},
      {"d":"2019-11-01","a":1.1215,"b":1.21675},
      {"d":"2019-12-01","a":1.12538,"b":1.21675},
      {"d":"2020-01-01","a":1.12538,"b":1.21675},
      {"d":"2020-02-01","a":1.12725,"b":1.21675},
      {"d":"2020-03-01","a":1.15625,"b":1.21675},
      {"d":"2020-04-01","a":1.16425,"b":1.21675},
      {"d":"2020-05-01","a":1.169,"b":1.21675},
      {"d":"2020-06-01","a":1.17513,"b":1.21675},
      {"d":"2020-07-01","a":1.174,"b":1.21675},
      {"d":"2020-08-01","a":1.174,"b":1.21675},
      {"d":"2020-09-01","a":1.174,"b":1.21675},
      {"d":"2020-10-01","a":1.16875,"b":1.21675},
      {"d":"2020-11-01","a":1.16875,"b":1.202},
      {"d":"2020-12-01","a":1.16875,"b":1.202},
      {"d":"2021-01-01","a":1.16463,"b":1.18925},
      {"d":"2021-02-01","a":1.16313,"b":1.1765},
      {"d":"2021-03-01","a":1.15513,"b":1.16125},
      {"d":"2021-04-01","a":1.149,"b":1.147},
      {"d":"2021-05-01","a":1.151,"b":1.1455},
      {"d":"2021-06-01","a":1.14938,"b":1.14475},
      {"d":"2021-07-01","a":1.15113,"b":1.14475},
      {"d":"2021-08-01","a":1.153,"b":1.14475},
      {"d":"2021-09-01","a":1.15663,"b":1.14475},
      {"d":"2021-10-01","a":1.14938,"b":1.14475},
      {"d":"2021-11-01","a":1.14713,"b":1.14475},
      {"d":"2021-12-01","a":1.14513,"b":1.14475},
      {"d":"2022-01-01","a":1.14413,"b":1.14475},
      {"d":"2022-02-01","a":1.14313,"b":1.14475},
      {"d":"2022-03-01","a":1.14313,"b":1.14475},
      {"d":"2022-04-01","a":1.14313,"b":1.14475},
      {"d":"2022-05-01","a":1.133,"b":1.14475},
      {"d":"2022-06-01","a":1.131,"b":1.14475},
      {"d":"2022-07-01","a":1.1295,"b":1.14475},
      {"d":"2022-08-01","a":1.1215,"b":1.14475},
      {"d":"2022-09-01","a":1.12725,"b":1.14475},
      {"d":"2022-10-01","a":1.13,"b":1.14475},
      {"d":"2022-11-01","a":1.13225,"b":1.14475},
      {"d":"2022-12-01","a":1.13225,"b":1.14475},
      {"d":"2023-01-01","a":1.13225,"b":1.14475},
      {"d":"2023-02-01","a":1.14963,"b":1.14475},
      {"d":"2023-03-01","a":1.1525,"b":1.14475},
      {"d":"2023-04-01","a":1.16075,"b":1.14475},
      {"d":"2023-05-01","a":1.163,"b":1.14475},
      {"d":"2023-06-01","a":1.17338,"b":1.14475},
      {"d":"2023-07-01","a":1.17338,"b":1.1525},
      {"d":"2023-08-01","a":1.17338,"b":1.1525},
      {"d":"2023-09-01","a":1.17338,"b":1.15625},
      {"d":"2023-10-01","a":1.175,"b":1.1595},
      {"d":"2023-11-01","a":1.17238,"b":1.1595},
      {"d":"2023-12-01","a":1.16938,"b":1.1595},
      {"d":"2024-01-01","a":1.16088,"b":1.1595},
      {"d":"2024-02-01","a":1.16088,"b":1.1595},
      {"d":"2024-03-01","a":1.15925,"b":1.1595},
      {"d":"2024-04-01","a":1.15863,"b":1.1595},
      {"d":"2024-05-01","a":1.1425,"b":1.1595},
      {"d":"2024-06-01","a":1.13,"b":1.15125},
      {"d":"2024-07-01","a":1.124,"b":1.14525},
      {"d":"2024-08-01","a":1.11863,"b":1.14125},
      {"d":"2024-09-01","a":1.09663,"b":1.11825},
      {"d":"2024-10-01","a":1.09113,"b":1.1125},
      {"d":"2024-11-01","a":1.07288,"b":1.09425},
      {"d":"2024-12-01","a":1.07288,"b":1.09425},
      {"d":"2025-01-01","a":1.06638,"b":1.09425},
      {"d":"2025-02-01","a":1.06238,"b":1.09425},
      {"d":"2025-03-01","a":1.05768,"b":1.09425}
    ],
    "levels": [
      {"name": "SSB M", "p": 1.14475},
      {"name": "Kijun M", "p": 1.09425}
    ],
    "bid": [
      {"p": 1.07898, "label": "1.07898"}
    ]
  },
  "resolve": {"scale": {"y": "independent"}, "axis": {"x": "independent"}},
  "layer": [
    {
      "data": {"name": "bars"},
      "mark": {"type": "rule", "color": "#008000", "strokeWidth": 1},
      "encoding": {
        "x": {
          "field": "d",
          "type": "temporal",
          "scale": {
            "type": "utc",
            "domain": [
              {"year": 2009, "month": 2, "date": 21, "utc": true},
              {"year": 2026, "month": 8, "date": 31, "utc": true}
            ]
          },
          "axis": {
            "orient": "bottom",
            "title": null,
            "labels": false,
            "ticks": false,
            "domain": false,
            "grid": true,
            "gridDash": [3, 3],
            "gridColor": {"condition": {"test": "utcmonth(datum.value) === 0", "value": "#000000"}, "value": "#c0c0c0"},
            "values": [
              {"year": 2009, "month": 3, "utc": true}, {"year": 2009, "month": 7, "utc": true}, {"year": 2009, "month": 11, "utc": true},
              {"year": 2010, "month": 1, "utc": true}, {"year": 2010, "month": 3, "utc": true}, {"year": 2010, "month": 7, "utc": true}, {"year": 2010, "month": 11, "utc": true},
              {"year": 2011, "month": 1, "utc": true}, {"year": 2011, "month": 3, "utc": true}, {"year": 2011, "month": 7, "utc": true}, {"year": 2011, "month": 11, "utc": true},
              {"year": 2012, "month": 1, "utc": true}, {"year": 2012, "month": 3, "utc": true}, {"year": 2012, "month": 7, "utc": true}, {"year": 2012, "month": 11, "utc": true},
              {"year": 2013, "month": 1, "utc": true}, {"year": 2013, "month": 3, "utc": true}, {"year": 2013, "month": 7, "utc": true}, {"year": 2013, "month": 11, "utc": true},
              {"year": 2014, "month": 1, "utc": true}, {"year": 2014, "month": 3, "utc": true}, {"year": 2014, "month": 7, "utc": true}, {"year": 2014, "month": 11, "utc": true},
              {"year": 2015, "month": 1, "utc": true}, {"year": 2015, "month": 3, "utc": true}, {"year": 2015, "month": 7, "utc": true}, {"year": 2015, "month": 11, "utc": true},
              {"year": 2016, "month": 1, "utc": true}, {"year": 2016, "month": 3, "utc": true}, {"year": 2016, "month": 7, "utc": true}, {"year": 2016, "month": 11, "utc": true},
              {"year": 2017, "month": 1, "utc": true}, {"year": 2017, "month": 3, "utc": true}, {"year": 2017, "month": 7, "utc": true}, {"year": 2017, "month": 11, "utc": true},
              {"year": 2018, "month": 1, "utc": true}, {"year": 2018, "month": 3, "utc": true}, {"year": 2018, "month": 7, "utc": true}, {"year": 2018, "month": 11, "utc": true},
              {"year": 2019, "month": 1, "utc": true}, {"year": 2019, "month": 3, "utc": true}, {"year": 2019, "month": 7, "utc": true}, {"year": 2019, "month": 11, "utc": true},
              {"year": 2020, "month": 1, "utc": true}, {"year": 2020, "month": 3, "utc": true}, {"year": 2020, "month": 7, "utc": true}, {"year": 2020, "month": 11, "utc": true},
              {"year": 2021, "month": 1, "utc": true}, {"year": 2021, "month": 3, "utc": true}, {"year": 2021, "month": 7, "utc": true}, {"year": 2021, "month": 11, "utc": true},
              {"year": 2022, "month": 1, "utc": true}, {"year": 2022, "month": 3, "utc": true}, {"year": 2022, "month": 7, "utc": true}, {"year": 2022, "month": 11, "utc": true},
              {"year": 2023, "month": 1, "utc": true}, {"year": 2023, "month": 3, "utc": true}, {"year": 2023, "month": 7, "utc": true}, {"year": 2023, "month": 11, "utc": true},
              {"year": 2024, "month": 1, "utc": true}, {"year": 2024, "month": 3, "utc": true}, {"year": 2024, "month": 7, "utc": true}, {"year": 2024, "month": 11, "utc": true},
              {"year": 2025, "month": 1, "utc": true}, {"year": 2025, "month": 3, "utc": true}, {"year": 2025, "month": 7, "utc": true}, {"year": 2025, "month": 11, "utc": true},
              {"year": 2026, "month": 1, "utc": true}, {"year": 2026, "month": 3, "utc": true}, {"year": 2026, "month": 7, "utc": true}
            ]
          }
        },
        "y": {"field": "v", "type": "quantitative", "scale": {"domain": [0, 737]}, "axis": null},
        "y2": {"datum": 0}
      }
    },
    {
      "layer": [
        {
          "data": {"name": "cloud"},
          "mark": {"type": "rule", "strokeWidth": 1, "strokeDash": [3, 2]},
          "encoding": {
            "x": {
              "field": "d",
              "type": "temporal",
              "axis": {
                "orient": "bottom",
                "title": null,
                "grid": false,
                "domain": false,
                "ticks": true,
                "labelExpr": "utcFormat(datum.value, '%-d %b %Y')",
                "values": [
                  {"year": 2009, "month": 3, "utc": true}, {"year": 2009, "month": 11, "utc": true}, {"year": 2010, "month": 7, "utc": true},
                  {"year": 2011, "month": 3, "utc": true}, {"year": 2011, "month": 11, "utc": true}, {"year": 2012, "month": 7, "utc": true},
                  {"year": 2013, "month": 3, "utc": true}, {"year": 2013, "month": 11, "utc": true}, {"year": 2014, "month": 7, "utc": true},
                  {"year": 2015, "month": 3, "utc": true}, {"year": 2015, "month": 11, "utc": true}, {"year": 2016, "month": 7, "utc": true},
                  {"year": 2017, "month": 3, "utc": true}, {"year": 2017, "month": 11, "utc": true}, {"year": 2018, "month": 7, "utc": true},
                  {"year": 2019, "month": 3, "utc": true}, {"year": 2019, "month": 11, "utc": true}, {"year": 2020, "month": 7, "utc": true},
                  {"year": 2021, "month": 3, "utc": true}, {"year": 2021, "month": 11, "utc": true}, {"year": 2022, "month": 7, "utc": true}
                ]
              }
            },
            "y": {
              "field": "a",
              "type": "quantitative",
              "scale": {"domain": [0.93946, 1.54356], "zero": false, "nice": false},
              "axis": {"orient": "right", "title": null, "domain": false, "grid": true, "gridDash": [3, 3], "gridColor": "#c0c0c0", "labelOverlap": false, "labelSeparation": -40, "labelExpr": "datum.value === 1.077 ? '' : format(datum.value, '.5f')", "values": [1.537, 1.5098, 1.4834, 1.4562, 1.429, 1.4018, 1.3746, 1.3474, 1.3202, 1.2938, 1.2666, 1.2394, 1.2122, 1.185, 1.1578, 1.1306, 1.1042, 1.077, 1.0498, 1.0226, 0.9954, 0.9682, 0.9418]}
            },
            "y2": {"field": "b"},
            "color": {"condition": {"test": "datum.a > datum.b", "value": "#a52a2a"}, "value": "#00e5ee"}
          }
        },
        {
          "data": {"name": "cloud"},
          "mark": {"type": "line", "color": "#a52a2a", "strokeWidth": 1, "strokeDash": [3, 2]},
          "encoding": {
            "x": {"field": "d", "type": "temporal"},
            "y": {"field": "a", "type": "quantitative", "axis": {"orient": "right", "title": null, "domain": false, "grid": true, "gridDash": [3, 3], "gridColor": "#c0c0c0", "labelOverlap": false, "labelSeparation": -40, "labelExpr": "datum.value === 1.077 ? '' : format(datum.value, '.5f')", "values": [1.537, 1.5098, 1.4834, 1.4562, 1.429, 1.4018, 1.3746, 1.3474, 1.3202, 1.2938, 1.2666, 1.2394, 1.2122, 1.185, 1.1578, 1.1306, 1.1042, 1.077, 1.0498, 1.0226, 0.9954, 0.9682, 0.9418]}}
          }
        },
        {
          "data": {"name": "cloud"},
          "mark": {"type": "line", "color": "#00e5ee", "strokeWidth": 1, "strokeDash": [3, 2]},
          "encoding": {
            "x": {"field": "d", "type": "temporal"},
            "y": {"field": "b", "type": "quantitative", "axis": {"orient": "right", "title": null, "domain": false, "grid": true, "gridDash": [3, 3], "gridColor": "#c0c0c0", "labelOverlap": false, "labelSeparation": -40, "labelExpr": "datum.value === 1.077 ? '' : format(datum.value, '.5f')", "values": [1.537, 1.5098, 1.4834, 1.4562, 1.429, 1.4018, 1.3746, 1.3474, 1.3202, 1.2938, 1.2666, 1.2394, 1.2122, 1.185, 1.1578, 1.1306, 1.1042, 1.077, 1.0498, 1.0226, 0.9954, 0.9682, 0.9418]}}
          }
        },
        {
          "data": {"name": "bid"},
          "mark": {"type": "rule", "color": "#c0c0c0", "strokeWidth": 1},
          "encoding": {
            "y": {"field": "p", "type": "quantitative", "axis": {"orient": "right", "title": null, "domain": false, "grid": true, "gridDash": [3, 3], "gridColor": "#c0c0c0", "labelOverlap": false, "labelSeparation": -40, "labelExpr": "datum.value === 1.077 ? '' : format(datum.value, '.5f')", "values": [1.537, 1.5098, 1.4834, 1.4562, 1.429, 1.4018, 1.3746, 1.3474, 1.3202, 1.2938, 1.2666, 1.2394, 1.2122, 1.185, 1.1578, 1.1306, 1.1042, 1.077, 1.0498, 1.0226, 0.9954, 0.9682, 0.9418]}}
          }
        },
        {
          "data": {"name": "bars"},
          "mark": {"type": "rule", "color": "#000000", "strokeWidth": 1},
          "encoding": {
            "x": {"field": "d", "type": "temporal"},
            "y": {"field": "l", "type": "quantitative", "axis": {"orient": "right", "title": null, "domain": false, "grid": true, "gridDash": [3, 3], "gridColor": "#c0c0c0", "labelOverlap": false, "labelSeparation": -40, "labelExpr": "datum.value === 1.077 ? '' : format(datum.value, '.5f')", "values": [1.537, 1.5098, 1.4834, 1.4562, 1.429, 1.4018, 1.3746, 1.3474, 1.3202, 1.2938, 1.2666, 1.2394, 1.2122, 1.185, 1.1578, 1.1306, 1.1042, 1.077, 1.0498, 1.0226, 0.9954, 0.9682, 0.9418]}},
            "y2": {"field": "h"}
          }
        },
        {
          "data": {"name": "bars"},
          "mark": {"type": "bar", "width": 5, "stroke": "#000000", "strokeWidth": 1},
          "encoding": {
            "x": {"field": "d", "type": "temporal"},
            "y": {"field": "o", "type": "quantitative", "axis": {"orient": "right", "title": null, "domain": false, "grid": true, "gridDash": [3, 3], "gridColor": "#c0c0c0", "labelOverlap": false, "labelSeparation": -40, "labelExpr": "datum.value === 1.077 ? '' : format(datum.value, '.5f')", "values": [1.537, 1.5098, 1.4834, 1.4562, 1.429, 1.4018, 1.3746, 1.3474, 1.3202, 1.2938, 1.2666, 1.2394, 1.2122, 1.185, 1.1578, 1.1306, 1.1042, 1.077, 1.0498, 1.0226, 0.9954, 0.9682, 0.9418]}},
            "y2": {"field": "c"},
            "fill": {"condition": {"test": "datum.c >= datum.o", "value": "#ffffff"}, "value": "#000000"}
          }
        },
        {
          "data": {"name": "bars"},
          "mark": {"type": "line", "color": "#ff0000", "strokeWidth": 1},
          "encoding": {
            "x": {"field": "d", "type": "temporal"},
            "y": {"field": "t", "type": "quantitative", "axis": {"orient": "right", "title": null, "domain": false, "grid": true, "gridDash": [3, 3], "gridColor": "#c0c0c0", "labelOverlap": false, "labelSeparation": -40, "labelExpr": "datum.value === 1.077 ? '' : format(datum.value, '.5f')", "values": [1.537, 1.5098, 1.4834, 1.4562, 1.429, 1.4018, 1.3746, 1.3474, 1.3202, 1.2938, 1.2666, 1.2394, 1.2122, 1.185, 1.1578, 1.1306, 1.1042, 1.077, 1.0498, 1.0226, 0.9954, 0.9682, 0.9418]}}
          }
        },
        {
          "data": {"name": "bars"},
          "mark": {"type": "line", "color": "#0000ff", "strokeWidth": 1},
          "encoding": {
            "x": {"field": "d", "type": "temporal"},
            "y": {"field": "k", "type": "quantitative", "axis": {"orient": "right", "title": null, "domain": false, "grid": true, "gridDash": [3, 3], "gridColor": "#c0c0c0", "labelOverlap": false, "labelSeparation": -40, "labelExpr": "datum.value === 1.077 ? '' : format(datum.value, '.5f')", "values": [1.537, 1.5098, 1.4834, 1.4562, 1.429, 1.4018, 1.3746, 1.3474, 1.3202, 1.2938, 1.2666, 1.2394, 1.2122, 1.185, 1.1578, 1.1306, 1.1042, 1.077, 1.0498, 1.0226, 0.9954, 0.9682, 0.9418]}}
          }
        },
        {
          "data": {"name": "bars"},
          "mark": {"type": "line", "color": "#008000", "strokeWidth": 1},
          "encoding": {
            "x": {"field": "d", "type": "temporal"},
            "y": {"field": "ch", "type": "quantitative", "axis": {"orient": "right", "title": null, "domain": false, "grid": true, "gridDash": [3, 3], "gridColor": "#c0c0c0", "labelOverlap": false, "labelSeparation": -40, "labelExpr": "datum.value === 1.077 ? '' : format(datum.value, '.5f')", "values": [1.537, 1.5098, 1.4834, 1.4562, 1.429, 1.4018, 1.3746, 1.3474, 1.3202, 1.2938, 1.2666, 1.2394, 1.2122, 1.185, 1.1578, 1.1306, 1.1042, 1.077, 1.0498, 1.0226, 0.9954, 0.9682, 0.9418]}}
          }
        },
        {
          "data": {"name": "levels"},
          "mark": {"type": "rule", "color": "#ff00ff", "strokeWidth": 1, "strokeDash": [18, 6]},
          "encoding": {
            "y": {"field": "p", "type": "quantitative", "axis": {"orient": "right", "title": null, "domain": false, "grid": true, "gridDash": [3, 3], "gridColor": "#c0c0c0", "labelOverlap": false, "labelSeparation": -40, "labelExpr": "datum.value === 1.077 ? '' : format(datum.value, '.5f')", "values": [1.537, 1.5098, 1.4834, 1.4562, 1.429, 1.4018, 1.3746, 1.3474, 1.3202, 1.2938, 1.2666, 1.2394, 1.2122, 1.185, 1.1578, 1.1306, 1.1042, 1.077, 1.0498, 1.0226, 0.9954, 0.9682, 0.9418]}}
          }
        },
        {
          "data": {"name": "levels"},
          "mark": {"type": "text", "font": "Liberation Sans", "fontSize": 14, "color": "#ff00ff", "align": "left", "baseline": "alphabetic", "dy": 16},
          "encoding": {
            "x": {"datum": {"year": 2023, "month": 3, "date": 11, "utc": true}, "type": "temporal"},
            "y": {"field": "p", "type": "quantitative", "axis": {"orient": "right", "title": null, "domain": false, "grid": true, "gridDash": [3, 3], "gridColor": "#c0c0c0", "labelOverlap": false, "labelSeparation": -40, "labelExpr": "datum.value === 1.077 ? '' : format(datum.value, '.5f')", "values": [1.537, 1.5098, 1.4834, 1.4562, 1.429, 1.4018, 1.3746, 1.3474, 1.3202, 1.2938, 1.2666, 1.2394, 1.2122, 1.185, 1.1578, 1.1306, 1.1042, 1.077, 1.0498, 1.0226, 0.9954, 0.9682, 0.9418]}},
            "text": {"field": "name"}
          }
        },
        {
          "data": {"name": "bid"},
          "mark": {"type": "point", "shape": "M0.04,-0.1H0.84V0.1H0.04Z", "size": 10000, "filled": true, "color": "#000000", "opacity": 1, "strokeWidth": 0},
          "encoding": {
            "x": {"datum": {"year": 2026, "month": 8, "date": 31, "utc": true}, "type": "temporal"},
            "y": {"field": "p", "type": "quantitative", "axis": {"orient": "right", "title": null, "domain": false, "grid": true, "gridDash": [3, 3], "gridColor": "#c0c0c0", "labelOverlap": false, "labelSeparation": -40, "labelExpr": "datum.value === 1.077 ? '' : format(datum.value, '.5f')", "values": [1.537, 1.5098, 1.4834, 1.4562, 1.429, 1.4018, 1.3746, 1.3474, 1.3202, 1.2938, 1.2666, 1.2394, 1.2122, 1.185, 1.1578, 1.1306, 1.1042, 1.077, 1.0498, 1.0226, 0.9954, 0.9682, 0.9418]}}
          }
        },
        {
          "data": {"name": "bid"},
          "mark": {"type": "text", "font": "DejaVu Sans", "fontSize": 8, "color": "#ffffff", "align": "left", "baseline": "middle", "dx": 6},
          "encoding": {
            "x": {"datum": {"year": 2026, "month": 8, "date": 31, "utc": true}, "type": "temporal"},
            "y": {"field": "p", "type": "quantitative", "axis": {"orient": "right", "title": null, "domain": false, "grid": true, "gridDash": [3, 3], "gridColor": "#c0c0c0", "labelOverlap": false, "labelSeparation": -40, "labelExpr": "datum.value === 1.077 ? '' : format(datum.value, '.5f')", "values": [1.537, 1.5098, 1.4834, 1.4562, 1.429, 1.4018, 1.3746, 1.3474, 1.3202, 1.2938, 1.2666, 1.2394, 1.2122, 1.185, 1.1578, 1.1306, 1.1042, 1.077, 1.0498, 1.0226, 0.9954, 0.9682, 0.9418]}},
            "text": {"field": "label"}
          }
        }
      ]
    }
  ]
}
